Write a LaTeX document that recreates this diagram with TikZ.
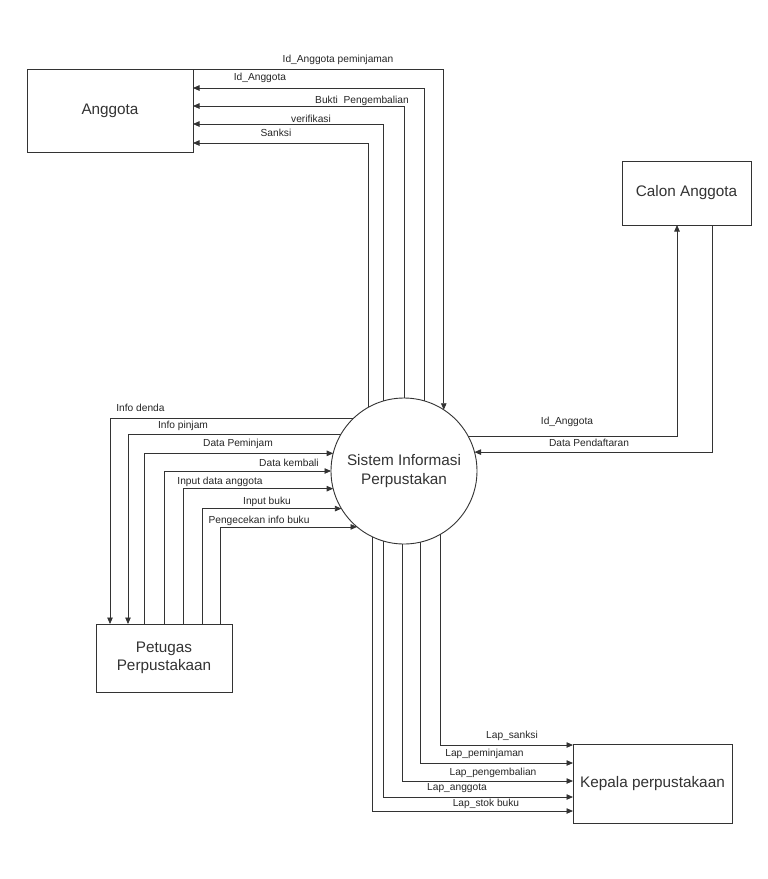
\documentclass[tikz,border=0pt]{standalone}
\usepackage{fontspec}
\setmainfont{Liberation Sans}
\usetikzlibrary{arrows.meta}
\begin{document}
\begin{tikzpicture}[x=1pt,y=-1pt,
  ent/.style={draw=black!80, line width=0.9pt, inner sep=0pt, outer sep=0pt, align=center, text=black!80, font=\fontsize{15.3}{18.5}\selectfont},
  proc/.style={ent, circle, minimum size=146pt},
  lbl/.style={inner sep=0pt, text=black!85, font=\fontsize{10.2}{12}\selectfont},
  flow/.style={draw=black!80, line width=0.8pt},
  arr/.style={flow, -{Triangle[length=6.5pt,width=5.5pt]}}]
\fill[white] (0,0) rectangle (768,879);
\useasboundingbox (0,0) rectangle (768,879);

% entities
\node[ent, minimum width=166pt, minimum height=83pt] (ang) at (110,110.5) {Anggota};
\node[ent, minimum width=129pt, minimum height=64pt] (cal) at (686.5,193) {Calon Anggota};
\node[ent, minimum width=136pt, minimum height=68pt] (pet) at (164,658) {Petugas\\Perpustakaan};
\node[ent, minimum width=159pt, minimum height=79pt] (kep) at (652.5,783.5) {Kepala perpustakaan};
\node[proc] (sys) at (404,471) {Sistem Informasi\\Perpustakan};

% Anggota flows
\draw[arr] (ang.north east) -| (sys.57.71);
\draw[arr] (sys.74.91) |- (ang.east |- 0,88);
\draw[arr] (sys.90) |- (ang.east |- 0,106);
\draw[arr] (sys.106.72) |- (ang.east |- 0,124);
\draw[arr] (sys.119.55) |- (ang.east |- 0,143);
\node[lbl] (l1) at (338,60) {Id\_Anggota peminjaman};
\node[lbl] (l2) at (260,78) {Id\_Anggota};
\node[lbl] (l3) at (362,101) {Bukti\ \ Pengembalian};
\node[lbl] (l4) at (311,119) {verifikasi};
\node[lbl] (l5) at (276,133) {Sanksi};

% Calon Anggota flows
\draw[arr] (sys.28.65) -| (cal.south -| 677,0);
\draw[arr] (cal.south -| 712,0) |- (sys.15.09);
\node[lbl] (l6) at (567,422) {Id\_Anggota};
\node[lbl] (l7) at (589,443) {Data Pendaftaran};

% Petugas flows
\draw[arr] (sys.134.57) -| (pet.north -| 110,0);
\draw[arr] (sys.150.45) -| (pet.north -| 128,0);
\draw[arr] (pet.north -| 144,0) |- (sys.166.53);
\draw[arr] (pet.north -| 164,0) |- (sys.180.78);
\draw[arr] (pet.north -| 183,0) |- (sys.194.27);
\draw[arr] (pet.north -| 202,0) |- (sys.211.37);
\draw[arr] (pet.north -| 220,0) |- (sys.230.1);
\node[lbl] (l8) at (140.5,408) {Info denda};
\node[lbl] (l9) at (183,426) {Info pinjam};
\node[lbl] (l10) at (238,444) {Data Peminjam};
\node[lbl] (l11) at (289,463) {Data kembali};
\node[lbl] (l12) at (220,482) {Input data anggota};
\node[lbl] (l13) at (267,502) {Input buku};
\node[lbl] (l14) at (259,521) {Pengecekan info buku};

% Kepala flows
\draw[arr] (sys.300.45) |- (kep.west |- 0,745);
\draw[arr] (sys.283.47) |- (kep.west |- 0,763);
\draw[arr] (sys.269.22) |- (kep.west |- 0,781);
\draw[arr] (sys.254.91) |- (kep.west |- 0,797);
\draw[arr] (sys.244.87) |- (kep.west |- 0,811);
\node[lbl] (l15) at (512,736) {Lap\_sanksi};
\node[lbl] (l16) at (484.5,754) {Lap\_peminjaman};
\node[lbl] (l17) at (493,773) {Lap\_pengembalian};
\node[lbl] (l18) at (457,788) {Lap\_anggota};
\node[lbl] (l19) at (486,804) {Lap\_stok buku};
\end{tikzpicture}
\end{document}
